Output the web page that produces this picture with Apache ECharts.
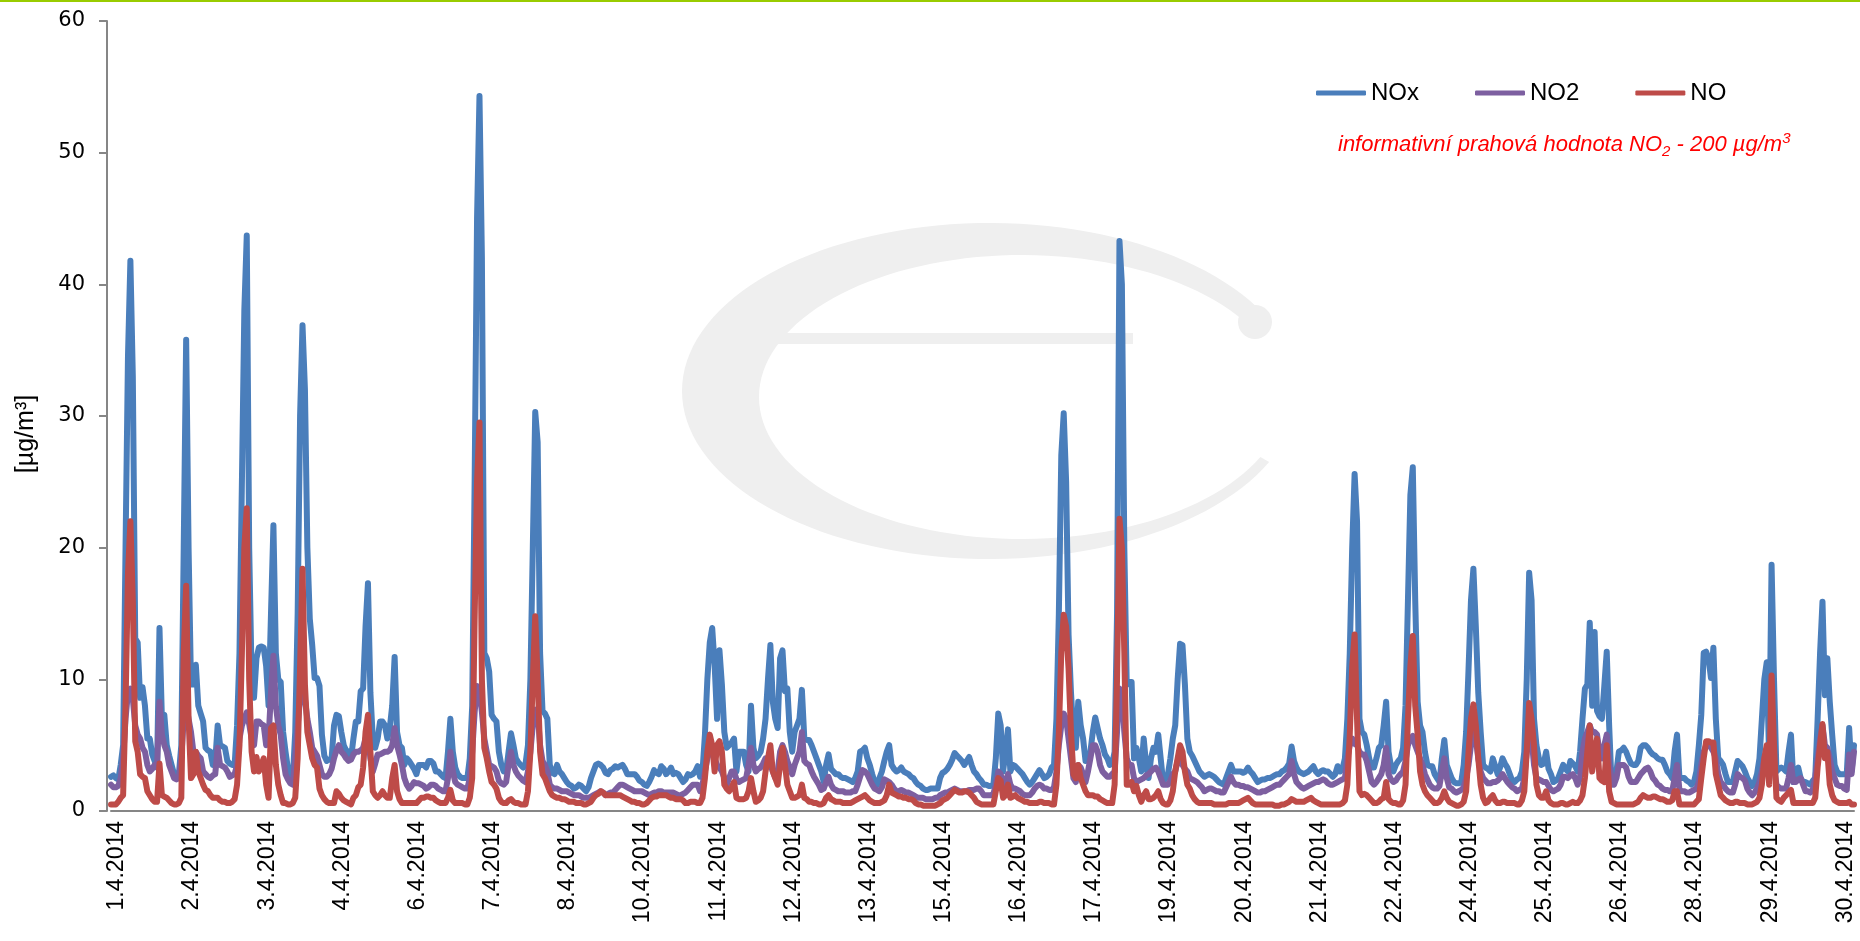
<!DOCTYPE html>
<html><head><meta charset="utf-8">
<script src="https://cdn.jsdelivr.net/npm/echarts@6/dist/echarts.min.js"></script>
<style>html,body{margin:0;padding:0;background:#fff}#c{width:1860px;height:941px}</style>
</head><body><div id="c"></div>
<script>
// Hourly categories: 30 days of April 2014, 24 hours each; the axis shows the date of every 31st hour
const monthSuffix = '.4.2014';
const dayCount = 30;
const hoursPerDay = 24;
const categories = [];
for (let d = 1; d <= dayCount; d++) for (let h = 0; h < hoursPerDay; h++) categories.push(d + monthSuffix);

const yMin = 0, yMax = 60, yStep = 10;
const seriesNames = ['NOx', 'NO2', 'NO'];
const seriesColors = ['#4A7EBB', '#7D5FA0', '#BE4B48'];

const nox = [
2.6,2.7,2.5,2.4,3.5,5.0,20,34.5,41.8,33,13.1,12.8,8.6,9.4,8.0,5.5,5.5,4.3,3.8,3.3,13.9,7.0,7.3,5.0,
4.2,3.5,2.8,2.5,2.8,5.0,20,35.8,20,9.6,9.6,11.1,8.0,7.4,6.8,4.8,4.6,4.5,3.5,3.8,6.5,5.0,4.9,4.8,
3.8,3.6,3.5,3.5,6.5,12,25,38,43.7,20,10.3,8.6,11.6,12.4,12.5,12.4,11.0,8.0,15,21.7,12,10.0,9.8,6.0,
4.5,3.2,2.6,2.5,6.0,15,30,36.9,32,20,14.6,12.6,10.1,10.1,9.5,5.8,4.2,3.8,3.9,4.0,6.5,7.3,7.2,6.0,
5.0,4.6,4.5,4.0,5.5,6.8,6.8,9.1,9.3,14,17.3,9,5.5,4.8,5.5,6.8,6.8,6.5,5.5,6.3,8,11.7,6,5.0,
4.8,3.5,4.0,3.8,3.5,3.2,2.8,3.5,3.5,3.5,3.3,3.8,3.8,3.6,3.0,3.0,2.8,2.6,2.5,4.5,7.0,4.5,3.3,2.8,
2.6,2.5,2.5,2.5,4.0,8,25,45,54.3,42,12,11.6,10.6,7.3,7.0,6.8,4.5,3.5,3.0,3.0,4.5,5.9,5.0,4.0,
3.7,3.5,3.3,3.6,5,10,20,30.3,28,12,7.6,7.4,7.0,3.5,2.9,2.8,3.5,3.0,2.8,2.5,2.2,2.0,1.9,1.7,
1.8,2.0,1.9,1.7,1.5,1.8,2.5,3.0,3.5,3.6,3.5,3.3,2.9,2.8,3.1,3.2,3.4,3.3,3.4,3.5,3.2,2.8,2.8,2.8,
2.8,2.6,2.3,2.2,2.0,1.9,2.2,2.6,3.1,2.9,2.8,3.4,3.2,2.8,3.0,3.3,2.8,2.9,2.8,2.5,2.2,2.4,2.8,2.7,
2.8,3.0,3.4,2.6,3.0,5.8,10,12.8,13.9,11.1,7.0,12.2,9.6,6,4.8,5.0,5.2,5.5,3.0,4.5,4.5,4.5,3.5,3.0,
8.0,4.8,4.0,4.2,4.5,5.5,7.0,10,12.6,8.3,7,6.3,11.6,12.2,9.1,9.3,6,4.5,6.0,6.5,7.0,9.2,5.5,5.4,
5.4,5.0,4.5,4.0,3.5,3.0,2.2,3.5,4.3,3.2,3.0,2.8,2.8,2.6,2.5,2.5,2.4,2.3,2.2,2.5,3.0,4.5,4.6,4.8,
4.0,3.5,2.8,2.2,2.0,2.5,3.0,3.8,4.5,5.0,3.5,3.2,3.0,3.1,3.3,3.0,2.9,2.8,2.6,2.5,2.2,2.0,1.9,1.7,
1.6,1.6,1.7,1.7,1.7,1.7,2.5,2.9,3.0,3.2,3.5,3.9,4.4,4.2,4.0,3.8,3.5,3.8,4.1,3.5,3.0,2.8,2.5,2.3,
2.0,2.0,1.9,1.9,2.0,4.0,7.4,6.5,3.0,4.5,6.2,3.0,3.5,3.4,3.2,3.0,2.8,2.5,2.2,2.0,2.2,2.5,2.8,3.1,
2.8,2.5,2.6,2.8,3.3,3.5,7.0,15,27,30.2,25,13.4,9,5.8,4.8,8.3,6.5,5.5,3.8,4.0,4.5,6.0,7.1,6.3,
5.5,5.0,4.3,4.0,3.5,3.6,4.5,15,43.3,40,20,9.6,9.8,9.8,4.0,4.8,4.0,3.0,5.5,3.5,2.5,4.0,4.8,4.5,
5.8,4.0,2.2,2.5,2.8,4.0,5.5,6.5,10.0,12.7,12.6,9.6,5.5,4.5,4.2,3.8,3.4,3.0,2.8,2.6,2.7,2.8,2.7,2.6,
2.4,2.2,2.1,2.0,2.5,3.0,3.5,3.0,3.0,3.0,3.0,2.9,3.0,3.3,3.0,2.8,2.5,2.2,2.3,2.4,2.4,2.5,2.5,2.6,
2.7,2.8,2.8,3.0,3.1,3.3,3.6,4.9,3.8,3.3,3.0,2.9,2.8,2.9,3.0,3.2,3.4,3.0,2.8,3.0,3.1,3.0,3.0,2.8,
2.6,2.8,3.4,3.0,3.2,4.0,7.0,12,20,25.6,22,7,6.0,5.8,5.0,4.0,3.3,3.3,4.0,4.8,5.0,6.5,8.3,4.5,
3.4,3.0,3.5,3.8,4.0,4.8,8.0,16,24,26.1,16,8.3,6.5,6.0,4.5,3.5,3.4,3.4,2.8,2.5,2.2,4.0,5.4,3.5,
3.0,2.5,2.2,2.1,2.1,2.2,3.5,6.0,10.8,16,18.4,14,9,6.0,3.5,3.3,3.2,3.0,4.0,3.4,2.8,3.3,4.0,3.6,
3.3,2.8,2.3,2.2,2.4,2.5,3.0,4.5,10,18.1,16,7.0,5.0,4.0,3.5,3.6,4.5,3.2,2.8,2.2,2.3,2.5,3.0,3.5,
3.2,3.0,3.8,3.6,3.4,3.0,4.5,7.0,9.3,9.6,14.3,8.0,13.6,7.6,7.2,7.0,9.5,12.1,6.5,2.0,2.5,3.0,4.5,4.6,
4.8,4.5,4.0,3.6,3.5,3.5,3.8,4.8,5.0,5.0,4.8,4.5,4.3,4.2,4.0,3.9,3.9,3.5,3.0,2.8,2.5,4.5,5.8,2.5,
2.5,2.5,2.3,2.2,2.0,2.2,3.0,5,7.3,12,12.1,11.6,10.1,12.4,7,4,3.8,3.5,2.8,2.2,2.2,2.2,3.0,3.8,
3.6,3.4,3.0,2.5,2.2,1.9,2.2,2.8,4.0,7.0,10,11.3,4,18.7,10,3.0,3.2,3.3,3.2,3.0,4.5,5.8,2.2,3.0,
3.3,2.5,2.2,2.2,2.1,2.0,2.3,2.5,7.0,12,15.9,8.8,11.6,8.3,5.8,3.5,3.0,2.8,2.8,2.8,2.8,6.3,3.0,5.0
];

const no2 = [
2.0,1.8,1.8,1.9,2.5,4.0,7.0,9.0,9.3,8.5,6.5,5.8,5.5,4.8,4.5,3.5,3.0,3.2,3.5,3.3,8.3,5.8,5.0,4.5,
3.5,3.0,2.5,2.4,2.5,4.0,7.0,8.0,7.0,6.0,4.5,4.5,4.2,4.0,3.0,2.8,2.6,2.5,2.7,2.8,4.8,3.5,3.4,3.3,
3.0,2.6,2.7,2.8,3.5,5.5,6.5,7.0,7.5,6.6,5.5,5.0,6.8,6.8,6.6,6.5,5.0,5.5,9,11.8,8,6.5,5.8,4.0,
2.8,2.4,2.1,2.0,4.0,6.5,8.5,9.0,8.5,7,6,4.8,4.5,4.2,3.5,2.8,2.6,2.6,2.8,3.2,4.0,4.6,5.0,4.5,
4.3,4.0,3.8,3.9,4.3,4.5,4.5,4.6,4.8,5.5,5.8,4.0,3.0,3.6,4.3,4.3,4.4,4.5,4.5,4.6,5.0,6.3,5.0,4.3,
3.5,2.5,2.0,1.7,1.9,2.2,2.1,2.1,2.0,1.9,1.7,1.8,2.0,2.0,1.9,1.7,1.6,1.5,1.5,2.5,4.5,3.0,2.2,2.0,
1.9,1.8,1.7,1.7,2.5,4.5,7.5,9.5,9.2,7.5,5.5,4.5,3.5,3.4,3.3,3.0,2.3,2.1,2.0,2.2,3.5,4.5,3.5,3.0,
2.7,2.5,2.3,2.2,3.0,4.5,6.5,7.7,7.5,5,3.8,3.5,3.0,2.0,1.8,1.7,1.7,1.6,1.5,1.5,1.5,1.4,1.3,1.2,
1.2,1.2,1.1,1.0,1.0,1.0,1.1,1.2,1.3,1.4,1.5,1.4,1.2,1.3,1.4,1.4,1.6,1.8,2.0,2.0,1.9,1.8,1.7,1.6,
1.5,1.5,1.5,1.5,1.4,1.3,1.2,1.3,1.4,1.4,1.5,1.5,1.4,1.4,1.4,1.4,1.4,1.3,1.2,1.2,1.3,1.4,1.6,1.8,
2.0,2.0,2.0,1.5,2.0,3.0,4.0,4.5,4.6,4.0,3.5,3.3,3.0,2.5,2.0,2.5,3.0,3.0,2.4,2.2,2.3,2.4,2.5,3.5,
4.8,3.5,3.0,3.2,3.3,3.6,4.0,3.8,3.5,3.0,2.5,3.0,4.5,5.0,4.5,3.8,3.3,2.8,3.5,4.0,4.5,6.0,3.8,3.6,
3.5,3.0,2.6,2.3,2.0,1.6,1.7,2.2,2.6,2.0,1.7,1.6,1.5,1.5,1.5,1.4,1.4,1.4,1.5,1.5,2.0,2.6,3.1,3.0,
2.8,2.4,2.0,1.7,1.6,1.5,1.8,2.4,2.3,2.2,2.0,1.7,1.5,1.5,1.6,1.5,1.4,1.4,1.3,1.2,1.1,1.0,1.0,1.0,
0.9,0.9,0.9,0.9,1.0,1.0,1.2,1.3,1.4,1.4,1.5,1.6,1.7,1.6,1.5,1.5,1.5,1.5,1.6,1.6,1.6,1.7,1.7,1.5,
1.2,1.2,1.2,1.2,1.3,2.0,3.0,2.8,2.0,2.2,2.8,2.0,1.7,1.7,1.6,1.5,1.3,1.2,1.2,1.2,1.4,1.7,1.9,2.0,
1.9,1.7,1.7,1.6,1.6,1.8,3.0,5.0,6.5,7.4,7.0,5.5,4.0,2.5,2.2,3.5,3.3,2.8,2.2,3.0,4.0,5.0,5.0,4.5,
3.5,3.0,2.8,2.6,2.6,2.8,3.0,6.0,9.3,9.0,6.0,4.0,3.5,3.5,2.5,2.2,2.3,2.4,2.5,2.7,2.8,3.0,3.2,3.3,
3.0,2.5,2.0,2.0,2.0,2.3,2.8,3.0,3.8,4.5,3.5,3.2,3.0,2.5,2.4,2.3,2.2,2.0,1.8,1.5,1.6,1.7,1.7,1.6,
1.5,1.5,1.4,1.4,1.8,2.2,2.6,2.2,2.0,2.0,1.9,1.9,1.8,1.8,1.7,1.6,1.5,1.4,1.4,1.5,1.5,1.6,1.7,1.8,
1.9,2.0,2.0,2.2,2.4,2.6,2.8,3.8,2.8,2.2,2.0,1.8,1.7,1.8,1.9,2.0,2.1,2.2,2.2,2.3,2.4,2.3,2.1,2.0,
2.0,2.1,2.2,2.3,2.4,2.5,4.0,5.0,5.5,5.1,5.0,4.5,4.3,4.3,3.8,3.0,2.2,2.0,2.2,2.5,2.8,3.5,4.8,2.8,
2.4,2.2,2.3,2.6,2.8,3.0,3.8,5.0,5.5,5.7,5.0,4.5,4.0,3.5,2.8,2.4,2.0,1.8,1.7,1.7,1.9,3.0,4.0,2.5,
1.8,1.7,1.5,1.4,1.5,1.6,1.8,2.5,3.5,5.0,6.0,5.5,4.0,3.0,2.5,2.3,2.1,2.1,2.2,2.2,2.3,2.5,2.8,2.5,
2.2,2.0,1.8,1.7,1.5,1.6,1.7,2.5,4.5,5.6,5.5,3.5,2.5,2.4,2.3,2.2,2.2,1.9,1.6,1.5,1.6,1.7,2.0,2.6,
2.6,2.5,2.7,2.8,2.5,2.0,2.5,4.5,5.5,6.0,6.5,6.0,6.0,5.8,4.5,4.0,5.0,5.8,3.5,2.5,2.0,2.5,3.5,3.5,
3.5,3.3,2.6,2.2,2.2,2.2,2.5,2.8,3.0,3.2,3.3,3.0,2.5,2.3,2.0,1.9,1.7,1.6,1.6,1.5,1.5,2.5,3.5,1.6,
1.5,1.5,1.4,1.4,1.5,1.6,1.7,2.2,3.5,4.5,5.0,5.0,4.8,4.5,4.0,2.8,2.2,2.0,1.7,1.5,1.4,1.4,2.0,2.8,
2.6,2.5,2.3,1.7,1.4,1.2,1.4,1.7,2.2,3.0,4.0,4.5,3.5,4.5,3.5,2.0,1.8,1.7,1.7,1.7,2.5,3.5,2.2,2.2,
2.4,2.5,2.0,1.5,1.5,1.4,1.6,2.5,4.0,5.5,6.5,5.0,4.8,4.0,3.0,2.5,2.0,1.9,1.9,1.7,1.6,4.3,2.8,4.5
];

const no = [
0.5,0.5,0.5,0.7,1.0,1.2,8,18,22,16,5.3,4.5,2.8,2.6,2.5,1.5,1.2,0.9,0.7,0.7,3.6,1.2,1.1,1.0,
0.8,0.6,0.5,0.5,0.6,1.0,12,17.1,7,2.5,2.8,4.5,3.0,2.5,2.0,1.6,1.5,1.2,1.0,1.0,1.0,0.8,0.7,0.7,
0.6,0.6,0.7,0.9,2.0,5,12,20,23,10,4.5,3.0,4.1,3.0,3.5,4.0,2.0,1.0,6.3,6.5,3.5,2.0,1.2,0.6,
0.6,0.5,0.5,0.6,1.0,4,11,18.4,9.6,6.0,5,4.0,3.5,3.3,1.7,1.2,0.9,0.7,0.6,0.6,0.6,1.5,1.3,1.0,
0.8,0.7,0.6,0.5,1.0,1.2,1.8,2.0,3.3,6.0,7.3,4.5,1.5,1.2,1.0,1.2,1.5,1.2,1.0,1.0,2.5,3.5,1.5,0.9,
0.6,0.6,0.6,0.6,0.6,0.6,0.6,0.8,1.0,1.0,1.1,1.1,1.0,1.0,0.8,0.7,0.6,0.6,0.6,1.0,1.6,0.8,0.6,0.6,
0.6,0.6,0.5,0.5,1.0,2.5,14.6,25,29.5,10,4.8,4.0,3.0,2.2,2.0,1.7,1.0,0.7,0.6,0.6,0.8,0.9,0.7,0.6,
0.6,0.5,0.5,0.5,1.5,4.5,10,14.8,10,4.5,2.8,2.5,2.0,1.5,1.2,1.1,1.0,1.0,0.9,0.9,0.8,0.7,0.7,0.7,
0.6,0.6,0.6,0.5,0.5,0.6,0.7,1.0,1.2,1.3,1.5,1.4,1.2,1.2,1.2,1.2,1.2,1.2,1.2,1.1,1.0,0.9,0.8,0.7,
0.7,0.6,0.6,0.5,0.5,0.6,0.8,1.0,1.1,1.1,1.2,1.2,1.2,1.2,1.1,1.0,1.0,0.9,0.9,0.9,0.8,0.6,0.6,0.7,
0.7,0.7,0.6,0.6,1.0,2.5,4.5,5.8,5.0,3.0,5.0,5.3,4.5,2.0,1.7,1.5,1.8,2.2,1.0,0.9,0.9,0.9,1.0,1.5,
2.5,1.5,0.7,0.8,1.0,1.5,3.0,4.0,5.0,3.0,2.5,2.0,3.5,4.8,3.5,2.0,1.5,1.0,1.0,1.1,1.2,2.0,1.0,0.9,
0.7,0.7,0.6,0.6,0.5,0.5,0.6,1.0,1.2,0.9,0.8,0.7,0.7,0.7,0.6,0.6,0.6,0.6,0.7,0.8,0.9,1.0,1.1,1.2,
1.0,0.8,0.7,0.6,0.6,0.6,0.7,0.8,1.2,2.0,1.4,1.3,1.2,1.1,1.1,1.0,1.0,0.9,0.9,0.8,0.6,0.5,0.5,0.4,
0.4,0.4,0.4,0.4,0.4,0.5,0.6,0.8,0.9,1.0,1.2,1.4,1.6,1.5,1.4,1.4,1.5,1.5,1.4,1.2,1.0,0.7,0.6,0.5,
0.5,0.5,0.5,0.5,0.5,1.5,2.5,2.3,1.0,1.2,2.0,1.0,1.1,1.2,1.0,0.9,0.8,0.7,0.7,0.6,0.6,0.6,0.6,0.7,
0.7,0.6,0.6,0.6,0.5,0.5,2.0,6.0,12,14.9,14,10.8,6.0,2.8,2.5,3.5,2.5,2.0,1.5,1.2,1.2,1.2,1.1,1.1,
0.9,0.8,0.7,0.6,0.6,0.6,2.0,10,22.2,20,12,2.0,2.0,2.2,1.5,1.9,1.2,0.7,1.2,1.5,0.9,0.9,1.0,1.2,
1.5,0.9,0.6,0.5,0.5,0.8,1.5,3.0,4.0,5.0,4.5,3.0,2.0,1.7,1.2,0.9,0.7,0.6,0.6,0.6,0.6,0.6,0.6,0.5,
0.5,0.5,0.5,0.5,0.5,0.6,0.6,0.6,0.6,0.6,0.7,0.8,0.9,1.0,0.8,0.6,0.5,0.5,0.5,0.5,0.5,0.5,0.5,0.5,
0.4,0.4,0.4,0.5,0.5,0.6,0.7,0.9,0.8,0.7,0.7,0.7,0.7,0.8,0.9,1.0,0.8,0.7,0.6,0.5,0.5,0.5,0.5,0.5,
0.5,0.5,0.5,0.5,0.6,0.8,2.0,5.8,11,13.4,7,1.5,1.2,1.3,1.2,1.0,0.8,0.6,0.6,0.7,0.9,1.0,2.2,0.9,
0.7,0.6,0.6,0.5,0.5,0.8,2.0,7,11,13.3,8,5.8,3.0,2.0,1.5,1.2,1.0,0.8,0.6,0.6,0.7,1.0,1.5,1.0,
0.7,0.6,0.5,0.4,0.4,0.5,0.7,1.5,4.5,7.0,8.1,6.5,4.0,2.0,1.0,0.6,0.7,1.0,1.2,0.8,0.6,0.6,0.7,0.7,
0.6,0.6,0.6,0.6,0.5,0.5,0.8,1.5,4.5,8.2,7.0,5.0,2.0,1.2,1.0,1.0,1.5,0.8,0.6,0.5,0.5,0.5,0.6,0.6,
0.5,0.5,0.6,0.7,0.6,0.6,0.8,1.2,2.5,4.5,6.5,3.0,4.5,5.5,2.5,2.3,2.2,5.0,1.5,0.7,0.6,0.5,0.5,0.5,
0.5,0.5,0.5,0.5,0.5,0.6,0.7,1.0,1.2,1.1,1.0,1.0,1.1,1.1,1.0,0.9,0.9,0.8,0.7,0.7,0.8,1.5,1.5,0.5,
0.5,0.5,0.5,0.5,0.5,0.5,0.7,0.9,2.5,4.0,5.3,5.3,5.2,5.2,2.8,2.0,1.2,1.0,0.8,0.7,0.6,0.6,0.7,0.7,
0.6,0.6,0.6,0.5,0.5,0.5,0.6,0.7,1.0,2.0,4.0,5.0,2.0,10.3,5.0,1.0,0.8,0.7,1.0,1.2,1.4,1.6,0.6,0.6,
0.6,0.6,0.6,0.6,0.6,0.6,0.6,1.0,3.3,5.0,6.6,4.0,4.5,2.0,1.2,0.8,0.7,0.6,0.6,0.6,0.6,0.7,0.5,0.5
];

// decorative watermark: a C-shaped crescent between two ellipses (pixel geometry, not data)
function crescent(o, inn, a1, a2, steps) {
  const pts = [];
  for (let k = 0; k <= steps; k++) {
    const t = (a1 + (a2 - a1) * k / steps) * Math.PI / 180;
    pts.push([o.cx + o.rx * Math.cos(t), o.cy + o.ry * Math.sin(t)]);
  }
  for (let k = steps; k >= 0; k--) {
    const t = (a1 + (a2 - a1) * k / steps) * Math.PI / 180;
    pts.push([inn.cx + inn.rx * Math.cos(t), inn.cy + inn.ry * Math.sin(t)]);
  }
  return pts;
}
const logoPts = crescent({ cx: 990, cy: 391, rx: 308, ry: 168 }, { cx: 1022, cy: 397, rx: 263, ry: 142 }, 25, 335, 120);

const chart = echarts.init(document.getElementById('c'), null, { renderer: 'canvas' });
const seriesData = [nox, no2, no];
const logoGray = '#EFEFEF';
const redStyle = { fontStyle: 'italic', fontFamily: 'Liberation Sans', fill: '#FF0000', lineHeight: 28 };
chart.setOption({
  animation: false,
  backgroundColor: '#ffffff',
  graphic: [
    { type: 'polygon', z: 0, shape: { points: logoPts }, style: { fill: logoGray } },
    { type: 'rect', z: 0, shape: { x: 765, y: 333, width: 368, height: 11 }, style: { fill: logoGray } },
    { type: 'circle', z: 0, shape: { cx: 1255, cy: 322, r: 17 }, style: { fill: logoGray } },
    { type: 'rect', z: 100, shape: { x: 0, y: 0, width: 1860, height: 2 }, style: { fill: '#99CC00' } },
    {
      type: 'text', left: 1338, top: 131, z: 100,
      style: {
        text: '{a|informativní prahová hodnota NO}{s|2}{a| - 200 µg/m}{p|3}',
        rich: {
          a: Object.assign({ fontSize: 22, verticalAlign: 'middle' }, redStyle),
          s: Object.assign({ fontSize: 15, verticalAlign: 'bottom' }, redStyle),
          p: Object.assign({ fontSize: 15, verticalAlign: 'top' }, redStyle)
        }
      }
    }
  ],
  legend: {
    left: 1311, top: 76,
    itemWidth: 50, itemHeight: 5, itemGap: 56,
    icon: 'roundRect',
    textStyle: { fontSize: 24, fontFamily: 'Liberation Sans', color: '#000' },
    data: seriesNames
  },
  grid: { left: 111, right: 6, top: 21, bottom: 130, containLabel: false },
  xAxis: {
    type: 'category', data: categories, boundaryGap: false,
    axisLine: { lineStyle: { color: '#868686', width: 2 } },
    axisTick: { show: false },
    axisLabel: { interval: 30, rotate: 90, fontSize: 23, fontFamily: 'Liberation Sans', color: '#000', margin: 10, verticalAlign: 'top', lineHeight: 12 }
  },
  yAxis: {
    type: 'value', min: yMin, max: yMax, interval: yStep, offset: 4,
    name: '[µg/m³]', nameLocation: 'middle', nameGap: 68,
    nameTextStyle: { fontSize: 25, fontFamily: 'Liberation Sans', color: '#000', padding: [0, 36, 0, 0] },
    axisLine: { show: true, lineStyle: { color: '#868686', width: 2 } },
    axisTick: { show: true, length: 8, lineStyle: { color: '#868686', width: 2 } },
    splitLine: { show: false },
    axisLabel: { fontSize: 21, fontFamily: 'DejaVu Sans', color: '#000', margin: 22 }
  },
  series: seriesNames.map((n, i) => ({
    name: n, type: 'line', data: seriesData[i],
    showSymbol: false, symbol: 'none',
    color: seriesColors[i],
    lineStyle: { width: 6, color: seriesColors[i], join: 'round', cap: 'round' },
    z: 2 + i
  }))
});
</script>
</body></html>
